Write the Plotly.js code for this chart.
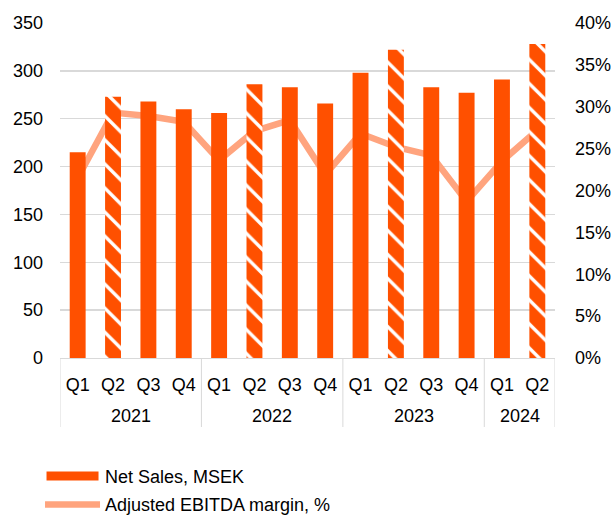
<!DOCTYPE html>
<html>
<head>
<meta charset="utf-8">
<script src="https://cdn.plot.ly/plotly-3.0.1.min.js"></script>
<style>
html,body{margin:0;padding:0;background:#fff;}
#chart{width:611px;height:516px;}
</style>
</head>
<body>
<div id="chart"></div>
<script>
// Categories (two-level axis: year, quarter)
const years    = ['2021','2021','2021','2021','2022','2022','2022','2022','2023','2023','2023','2023','2024','2024'];
const quarters = ['Q1','Q2','Q3','Q4','Q1','Q2','Q3','Q4','Q1','Q2','Q3','Q4','Q1','Q2'];

// Net Sales, MSEK (bars, left axis)
const netSales = [215, 273, 268, 260, 256, 286, 283, 266, 298, 322, 283, 277, 291, 328];

// Adjusted EBITDA margin, % (line, right axis)
const ebitdaMargin = [21.5, 29.3, 28.9, 28.2, 23.6, 27.1, 28.4, 21.9, 26.8, 25.2, 24.2, 18.7, 23.5, 27.2];

// Which quarters are drawn hatched
const hatched = quarters.map(q => q === 'Q2');

const ORANGE = '#ff5000';
const SALMON = '#ffa47e';
const GRID = '#d9d9d9';
const FONT = 'Liberation Sans, Arial, sans-serif';

// unique category keys, labelled by quarter on the axis
const cats = years.map((y, i) => y + ' ' + quarters[i]);

// year groups -> label positions and divider positions (category index space)
const groups = [];
years.forEach((y, i) => {
  const g = groups.length ? groups[groups.length - 1] : null;
  if (g && g.year === y) g.end = i;
  else groups.push({year: y, start: i, end: i});
});
const dividerPos = [-0.5].concat(groups.map(g => g.end + 0.5));

const barTrace = {
  type: 'bar',
  name: 'Net Sales, MSEK',
  x: cats,
  y: netSales,
  yaxis: 'y2',
  legendgroup: 'a',
  marker: {
    color: ORANGE,
    line: {width: 0},
    pattern: {
      shape: hatched.map(h => h ? '\\' : ''),
      fgcolor: '#ffffff',
      bgcolor: ORANGE,
      fillmode: 'replace',
      size: 17,
      solidity: 0.2
    }
  }
};

const lineTrace = {
  type: 'scatter',
  mode: 'lines',
  name: 'Adjusted EBITDA margin, %',
  x: cats,
  y: ebitdaMargin,
  yaxis: 'y',
  legendgroup: 'b',
  line: {color: SALMON, width: 6.5}
};

const annotations = groups.map(g => ({
  xref: 'x', yref: 'paper',
  x: (g.start + g.end) / 2,
  y: -0.173,
  yanchor: 'middle',
  xanchor: 'center',
  text: g.year,
  showarrow: false,
  font: {family: FONT, size: 18, color: '#000000'}
}));

const shapes = dividerPos.map(p => ({
  type: 'line',
  xref: 'x', yref: 'paper',
  x0: p, x1: p, y0: 0, y1: -0.206,
  line: {color: GRID, width: 1}
}));

const layout = {
  width: 611,
  height: 516,
  margin: {l: 60, r: 56, t: 23, b: 158, autoexpand: false},
  paper_bgcolor: '#ffffff',
  plot_bgcolor: '#ffffff',
  font: {family: FONT, size: 18, color: '#000000'},
  bargap: 0.55,
  showlegend: true,
  annotations: annotations,
  shapes: shapes,
  xaxis: {
    type: 'category',
    categoryorder: 'array',
    categoryarray: cats,
    tickvals: cats,
    ticktext: quarters,
    range: [-0.5, cats.length - 0.5],
    showline: true,
    linecolor: GRID,
    linewidth: 1,
    showgrid: false,
    ticks: '',
    ticklabelstandoff: 10,
    tickfont: {family: FONT, size: 18, color: '#000000'}
  },
  yaxis: {
    side: 'right',
    range: [0, 40],
    dtick: 5,
    ticksuffix: '%',
    showgrid: false,
    zeroline: false,
    showline: false,
    ticks: '',
    ticklabelstandoff: 19,
    tickfont: {family: FONT, size: 18, color: '#000000'}
  },
  yaxis2: {
    overlaying: 'y',
    side: 'left',
    range: [0, 350],
    dtick: 50,
    showgrid: true,
    gridcolor: GRID,
    gridwidth: 1.3,
    zeroline: false,
    showline: false,
    ticks: '',
    ticklabelstandoff: 16,
    tickfont: {family: FONT, size: 18, color: '#000000'}
  },
  legend: {
    xref: 'container',
    yref: 'container',
    x: 0.0655,
    xanchor: 'left',
    y: 0.1127,
    yanchor: 'top',
    traceorder: 'grouped',
    tracegroupgap: 2,
    itemwidth: 55,
    font: {family: FONT, size: 18, color: '#000000'},
    bgcolor: 'rgba(0,0,0,0)'
  }
};

function widenBarLegendIcon() {
  const traces = document.querySelectorAll('#chart .legend .traces');
  if (!traces.length) return;
  const p = traces[0].querySelector('.legendpoints path');
  if (p) p.setAttribute('d', 'M26,4.5H-26V-4.5H26Z');
}

Plotly.newPlot('chart', [barTrace, lineTrace], layout, {displayModeBar: false, staticPlot: true})
  .then(widenBarLegendIcon);
</script>
</body>
</html>
